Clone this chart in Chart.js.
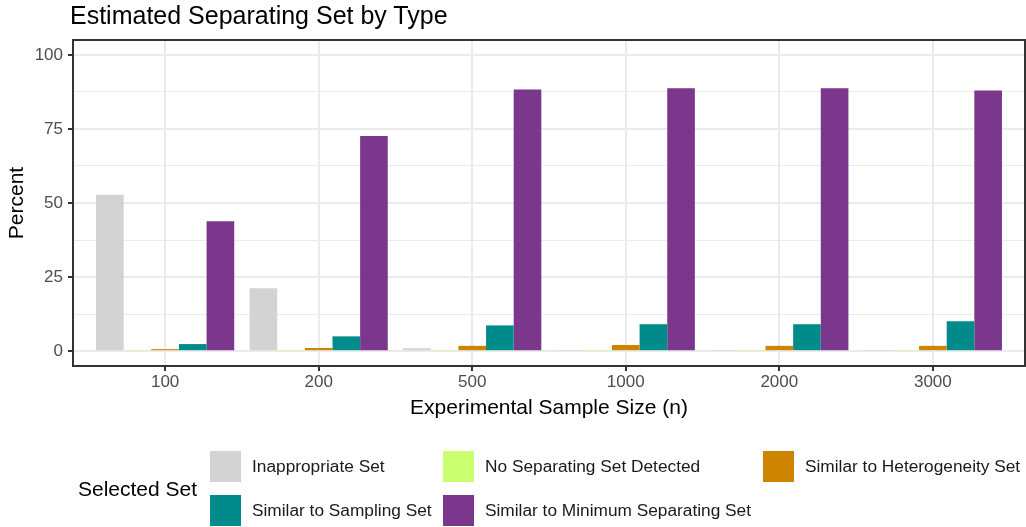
<!DOCTYPE html>
<html>
<head>
<meta charset="utf-8">
<script src="https://cdn.jsdelivr.net/npm/chart.js@4.4.1/dist/chart.umd.min.js"></script>
<style>
  html, body { margin: 0; padding: 0; background: #ffffff; }
  #wrap { position: relative; width: 1026px; height: 527px; overflow: hidden; font-family: "Liberation Sans", Arial, sans-serif; }
  #c { position: absolute; left: 0; top: 0; }
  #title { position: absolute; left: 70px; top: 3px; font-size: 25px; line-height: 25px; color: #000; white-space: nowrap; }
  #legTitle { position: absolute; left: 78px; top: 477px; font-size: 21px; line-height: 24px; color: #000; white-space: nowrap; }
  .key { position: absolute; width: 31px; height: 31px; }
  .lab { position: absolute; font-size: 17.3px; line-height: 31px; height: 31px; color: #1a1a1a; white-space: nowrap; }
</style>
</head>
<body>
<div id="wrap">
  <canvas id="c" width="1026" height="527"></canvas>
  <div id="title">Estimated Separating Set by Type</div>
  <div id="legTitle">Selected Set</div>
  <div id="legend"></div>
</div>
<script>
// ---- data ----
const categories = ['100', '200', '500', '1000', '2000', '3000'];
const seriesNames = ['Inappropriate Set', 'No Separating Set Detected', 'Similar to Heterogeneity Set', 'Similar to Sampling Set', 'Similar to Minimum Separating Set'];
const inappropriate = [52.8, 21.2, 1.0, 0.2, 0.2, 0.2];
const noSeparating  = [0.2, 0.2, 0.2, 0.2, 0.2, 0.2];
const heterogeneity = [0.7, 1.1, 1.8, 2.1, 1.8, 1.8];
const sampling      = [2.4, 5.0, 8.7, 9.1, 9.1, 10.1];
const minimum       = [43.8, 72.6, 88.3, 88.7, 88.7, 88.0];
const yTicks = [0, 25, 50, 75, 100];
const yMinorTicks = [12.5, 37.5, 62.5, 87.5];

const seriesValues = [inappropriate, noSeparating, heterogeneity, sampling, minimum];
const seriesColors = ['#D3D3D3', '#CAFF70', '#CD8500', '#008B8B', '#7A378B'];

const datasets = seriesNames.map((name, i) => ({
  label: name,
  data: seriesValues[i].map((v, j) => ({ x: j + 1, y: v })),
  backgroundColor: seriesColors[i],
  borderWidth: 0,
  barPercentage: 1.0,
  categoryPercentage: 0.9
}));

const allYTicks = yTicks.concat(yMinorTicks).sort((a, b) => a - b);
const isMajorY = v => yTicks.indexOf(v) !== -1;

const borderPlugin = {
  id: 'panelBorder',
  afterDraw(chart) {
    const { ctx, chartArea: a } = chart;
    ctx.save();
    ctx.strokeStyle = '#333333';
    ctx.lineWidth = 2;
    ctx.strokeRect(a.left, a.top, a.right - a.left, a.bottom - a.top);
    ctx.restore();
  }
};

new Chart(document.getElementById('c'), {
  type: 'bar',
  data: { datasets },
  options: {
    responsive: false,
    devicePixelRatio: 1,
    animation: false,
    layout: { padding: { top: 40, left: 0, right: 1, bottom: 106 } },
    plugins: { legend: { display: false }, title: { display: false }, tooltip: { enabled: false } },
    scales: {
      x: {
        type: 'linear',
        offset: false,
        min: 0.4,
        max: 6.6,
        afterBuildTicks: axis => { axis.ticks = categories.map((c, i) => ({ value: i + 1 })); },
        afterFit: scale => { scale.height = 55; },
        ticks: {
          autoSkip: false,
          maxRotation: 0,
          padding: 1,
          color: '#4D4D4D',
          font: { family: 'Liberation Sans', size: 17 },
          callback: v => categories[Math.round(v) - 1]
        },
        grid: { offset: false, color: '#EBEBEB', lineWidth: 2, tickLength: 5, tickColor: '#333333', tickWidth: 2 },
        border: { display: true, color: '#333333', width: 2 },
        title: {
          display: true,
          text: 'Experimental Sample Size (n)',
          color: '#000000',
          font: { family: 'Liberation Sans', size: 21 },
          padding: { top: 0, bottom: 0 }
        }
      },
      y: {
        min: -5,
        max: 105,
        afterBuildTicks: axis => { axis.ticks = allYTicks.map(v => ({ value: v })); },
        afterFit: scale => { scale.width = 73; },
        ticks: {
          autoSkip: false,
          padding: 5,
          color: '#4D4D4D',
          font: { family: 'Liberation Sans', size: 17 },
          callback: v => isMajorY(v) ? String(v) : ''
        },
        grid: {
          color: '#EBEBEB',
          lineWidth: c => (c.tick && isMajorY(c.tick.value)) ? 2 : 1,
          tickLength: 5,
          tickColor: c => (c.tick && isMajorY(c.tick.value)) ? '#333333' : 'rgba(0,0,0,0)',
          tickWidth: 2
        },
        border: { display: true, color: '#333333', width: 2 },
        title: {
          display: true,
          text: 'Percent',
          color: '#000000',
          font: { family: 'Liberation Sans', size: 21 },
          padding: { top: 5, bottom: 0 }
        }
      }
    }
  },
  plugins: [borderPlugin]
});

// ---- HTML legend (ggplot-style, 3 columns x 2 rows) ----
const legCols = [210, 443, 763];
const legRows = [451, 495];
const legend = document.getElementById('legend');
seriesNames.forEach((name, i) => {
  const col = i % 3, row = Math.floor(i / 3);
  const k = document.createElement('div');
  k.className = 'key';
  k.style.left = legCols[col] + 'px';
  k.style.top = legRows[row] + 'px';
  k.style.background = seriesColors[i];
  legend.appendChild(k);
  const l = document.createElement('div');
  l.className = 'lab';
  l.style.left = (legCols[col] + 42) + 'px';
  l.style.top = legRows[row] + 'px';
  l.textContent = name;
  legend.appendChild(l);
});
</script>
</body>
</html>
